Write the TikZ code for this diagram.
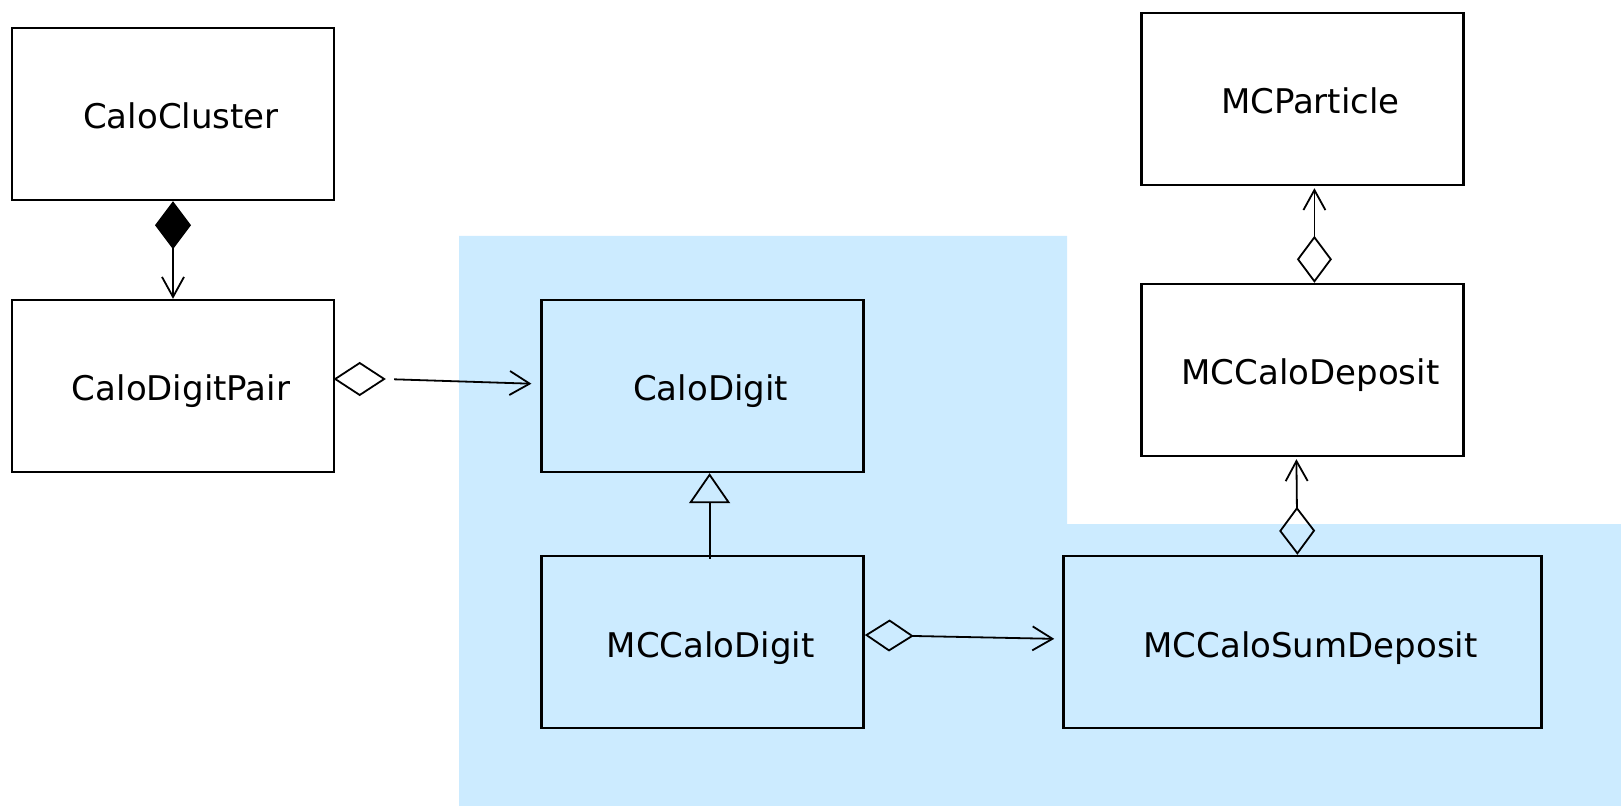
\documentclass[tikz,border=0pt]{standalone}
\usepackage{fontspec}
\setmainfont{DejaVu Sans}
\usetikzlibrary{positioning,arrows.meta,shapes.geometric}
\definecolor{pkgblue}{RGB}{204,235,255}

\begin{document}
\begin{tikzpicture}
  [box/.style={rectangle,draw,line width=1.2pt,minimum width=161pt,minimum height=86pt,
     inner sep=0pt,text height=15pt,text depth=0pt,font=\fontsize{17}{20}\selectfont,
     execute at begin node=\hspace*{8pt}},
   odiam/.style={diamond,draw,line width=0.9pt,minimum width=24.5pt,minimum height=16pt,inner sep=0pt,outer sep=0pt},
   comp/.style={line width=0.9pt,{Diamond[fill=black,length=24pt,width=18pt]}-{Straight Barb[length=10pt,width=11pt]}},
   aggr/.style={line width=0.9pt,{Diamond[open,length=24.5pt,width=16pt]}-{Straight Barb[length=10pt,width=12pt]}},
   assoc/.style={line width=0.9pt,-{Straight Barb[length=10pt,width=12pt]}},
   inherit/.style={line width=0.9pt,-{Triangle[open,length=15pt,width=20.5pt]}}]
  \useasboundingbox (0,0) rectangle (810.5pt,-403pt);
  \fill[pkgblue] (229.5pt,-118pt) -- (533.5pt,-118pt) -- (533.5pt,-262pt)
    -- (810.5pt,-262pt) -- (810.5pt,-403pt) -- (229.5pt,-403pt) -- cycle;
  \node[box] (cluster) at (86.5pt,-57pt) {CaloCluster};
  \node[box,below=48.8pt of cluster] (pair) {CaloDigitPair};
  \node[box,right=102.6pt of pair] (digit) {CaloDigit};
  \node[box,below=40.8pt of digit] (mcdigit) {MCCaloDigit};
  \node[box,minimum width=239pt,right=98.7pt of mcdigit] (sumdep) {MCCaloSumDeposit};
  \node[box,above=48.8pt of sumdep] (deposit) {MCCaloDeposit};
  \node[box,above=48.3pt of deposit] (particle) {MCParticle};
  \node[odiam,anchor=west] (pairdiam) at ([yshift=3.5pt]pair.east) {};
  \draw[comp] (cluster.south) -- (pair.north);
  \draw[assoc,shorten <=5pt,shorten >=4.5pt] (pairdiam.east) -- ([yshift=1pt]digit.west);
  \draw[inherit] ([xshift=3.5pt,yshift=-2pt]mcdigit.north) -- ([xshift=3.5pt]digit.south);
  \draw[aggr,shorten >=4pt] ([yshift=3.5pt]mcdigit.east) -- ([yshift=1.5pt]sumdep.west);
  \draw[aggr,{Diamond[open,length=23.5pt,width=17.5pt]}-{Straight Barb[length=10pt,width=11pt]},shorten >=1pt]
    ([xshift=6pt]deposit.north) -- ([xshift=6pt]particle.south);
  \draw[aggr,{Diamond[open,length=24pt,width=18pt]}-{Straight Barb[length=10pt,width=11pt]},shorten >=1pt]
    ([xshift=-2.5pt]sumdep.north) -- ([xshift=-3pt]deposit.south);
\end{tikzpicture}
\end{document}
